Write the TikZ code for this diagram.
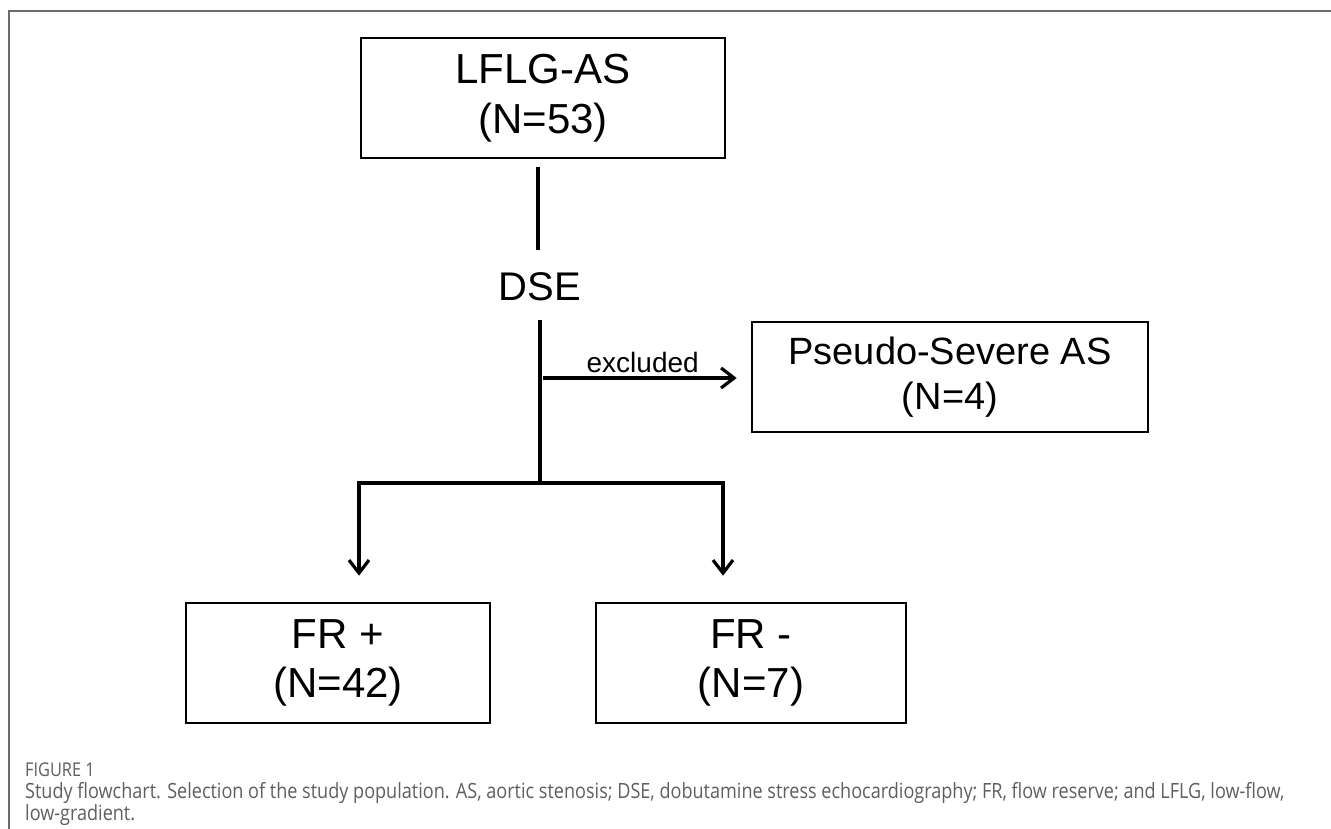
\documentclass[tikz,border=0pt]{standalone}
\usepackage{fontspec}
\setmainfont{Liberation Sans}
\newfontfamily\capfont[FakeStretch=0.86]{Open Sans}
\usetikzlibrary{arrows.meta}
\definecolor{framegray}{HTML}{6A6A6A}
\definecolor{capgray}{HTML}{5F5F5F}
\tikzset{
  box/.style={draw=black, line width=2.6pt, inner sep=0pt, align=center, anchor=center},
  ln/.style={line width=3.2pt, black},
  arr/.style={line width=3.2pt, black, -{Straight Barb[length=13pt,width=20pt,line width=3.2pt]}},
  captxt/.style={anchor=base west, inner sep=0pt, text=capgray, font=\capfont\fontsize{21}{22}\selectfont},
}
\begin{document}
\begin{tikzpicture}[x=1pt,y=-1pt]
\useasboundingbox (0,0) rectangle (1331,829);
\fill[white] (0,0) rectangle (1331,829);
% frame
\draw[framegray, line width=2pt] (9,829) -- (9,11) -- (1331,11);

% boxes
\node[box, minimum width=364pt, minimum height=120pt, font=\fontsize{42}{50}\selectfont] (lflg) at (543,98) {LFLG-AS\\(N=53)};
\node[font=\fontsize{40}{46}\selectfont, inner sep=0pt] (dse) at (540,287) {DSE};
\node[box, minimum width=396pt, minimum height=110pt, font=\fontsize{38}{45}\selectfont] (pseudo) at (950,377) {Pseudo-Severe AS\\(N=4)};
\node[box, minimum width=304pt, minimum height=120pt, font=\fontsize{42}{49}\selectfont] (frp) at (338,663) {FR +\\(N=42)};
\node[box, minimum width=310pt, minimum height=120pt, font=\fontsize{42}{49}\selectfont] (frm) at (751,663) {FR -\\(N=7)};

% connector coordinates
\coordinate (s1) at (538,167);
\coordinate (s2) at (538,250);
\coordinate (s3) at (540,320);
\coordinate (ex) at (543,378);
\coordinate (j) at (540,483);
\coordinate (bl) at (359,483);
\coordinate (br) at (723,483);

\draw[ln] (s1) -- (s2);
\draw[ln] (s3) -- (j);
\draw[arr, shorten >=14pt] (ex) -- (ex -| pseudo.west)
  node[pos=0.48, above=4pt, font=\fontsize{28}{32}\selectfont, inner sep=0pt] (exl) {excluded};
\draw[ln, line cap=rect] (bl) -- (br);
\draw[arr, shorten >=26pt] (bl) -- (bl |- frp.north);
\draw[arr, shorten >=26pt] (br) -- (br |- frm.north);

% caption
\node[captxt, font=\capfont\fontsize{19}{22}\selectfont] (fig) at (25,776) {FIGURE 1};
\node[captxt] (cap1) at (25,798) {Study flowchart. Selection of the study population. AS, aortic stenosis; DSE, dobutamine stress echocardiography; FR, flow reserve; and LFLG, low-flow,};
\node[captxt] (cap2) at (25,820) {low-gradient.};
\end{tikzpicture}
\end{document}
